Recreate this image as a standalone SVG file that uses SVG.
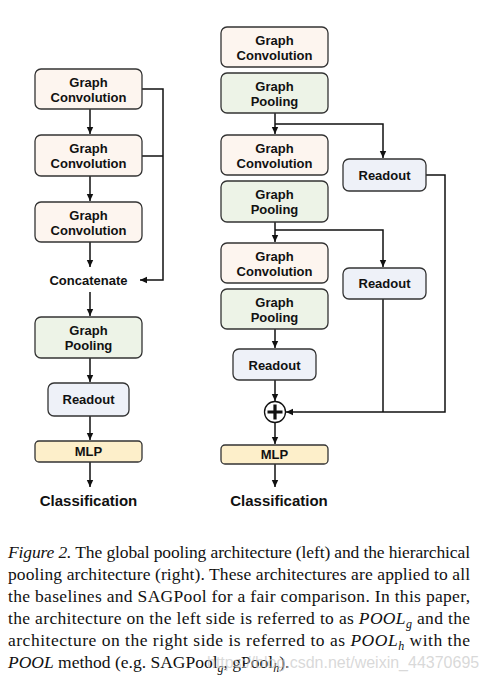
<svg xmlns="http://www.w3.org/2000/svg" width="489" height="683" viewBox="0 0 489 683">
<style>
.box{stroke:#333;stroke-width:1.3}
.gc{fill:#fdf5ef}
.gp{fill:#edf3e7}
.ro{fill:#eef1f8}
.mlp{fill:#fdefca}
.lbl{font-family:"Liberation Sans",Arial,sans-serif;font-weight:bold;font-size:13px;fill:#111;text-anchor:middle}
.big{font-size:15px}
.wire{fill:none;stroke:#111;stroke-width:1.5}
.cap{font-family:"Liberation Serif","Times New Roman",serif;font-size:17.5px;fill:#111}
.it{font-style:italic}
.sub{font-style:italic;font-size:12px}
</style>
<defs>
<marker id="ah" markerUnits="userSpaceOnUse" markerWidth="8" markerHeight="8" refX="7" refY="4" orient="auto">
<path d="M0,0.8 L7,4 L0,7.2 Z" fill="#111"/>
</marker>
</defs>
<rect width="489" height="683" fill="#fff"/>

<g id="connectors">
<path class="wire" d="M90,109 V134" marker-end="url(#ah)"/>
<path class="wire" d="M90,176 V201" marker-end="url(#ah)"/>
<path class="wire" d="M90,242 V267" marker-end="url(#ah)"/>
<path class="wire" d="M90,292 V316" marker-end="url(#ah)"/>
<path class="wire" d="M90,358 V382" marker-end="url(#ah)"/>
<path class="wire" d="M90,416 V440" marker-end="url(#ah)"/>
<path class="wire" d="M90,462 V487" marker-end="url(#ah)"/>
<path class="wire" d="M142,89 H163 V280 H140" marker-end="url(#ah)"/>
<path class="wire" d="M142,156 H163"/>

<path class="wire" d="M275,113 V134" marker-end="url(#ah)"/>
<path class="wire" d="M275,124 H383 V158" marker-end="url(#ah)"/>
<path class="wire" d="M426,175 H445 V412 H286" marker-end="url(#ah)"/>
<path class="wire" d="M275,222 V242" marker-end="url(#ah)"/>
<path class="wire" d="M275,230 H383 V267" marker-end="url(#ah)"/>
<path class="wire" d="M275,329 V348" marker-end="url(#ah)"/>
<path class="wire" d="M275,380 V401" marker-end="url(#ah)"/>
<path class="wire" d="M383,299 V412"/>
<path class="wire" d="M275,423 V444" marker-end="url(#ah)"/>
<path class="wire" d="M275,464 V487" marker-end="url(#ah)"/>
</g>

<!-- Left column -->
<g id="l-gc1"><rect class="box gc" x="35" y="69" width="107" height="40" rx="6"/><text class="lbl" x="88.5" y="87">Graph</text><text class="lbl" x="88.5" y="102">Convolution</text></g>
<g id="l-gc2"><rect class="box gc" x="35" y="135" width="107" height="41" rx="6"/><text class="lbl" x="88.5" y="153">Graph</text><text class="lbl" x="88.5" y="168">Convolution</text></g>
<g id="l-gc3"><rect class="box gc" x="35" y="202" width="107" height="40" rx="6"/><text class="lbl" x="88.5" y="220">Graph</text><text class="lbl" x="88.5" y="235">Convolution</text></g>
<g id="l-concat"><text class="lbl" x="88.5" y="285">Concatenate</text></g>
<g id="l-gp"><rect class="box gp" x="35" y="317" width="107" height="41" rx="6"/><text class="lbl" x="88.5" y="335">Graph</text><text class="lbl" x="88.5" y="350">Pooling</text></g>
<g id="l-ro"><rect class="box ro" x="48" y="383" width="81" height="33" rx="6"/><text class="lbl" x="88.5" y="404">Readout</text></g>
<g id="l-mlp"><rect class="box mlp" x="35" y="441" width="107" height="21" rx="4"/><text class="lbl" x="88.5" y="456">MLP</text></g>
<g id="l-cls"><text class="lbl big" x="88.5" y="506">Classification</text></g>

<!-- Right column -->
<g id="r-gc1"><rect class="box gc" x="221" y="27" width="107" height="40" rx="6"/><text class="lbl" x="274.5" y="45">Graph</text><text class="lbl" x="274.5" y="60">Convolution</text></g>
<g id="r-gp1"><rect class="box gp" x="221" y="73" width="107" height="40" rx="6"/><text class="lbl" x="274.5" y="91">Graph</text><text class="lbl" x="274.5" y="106">Pooling</text></g>
<g id="r-gc2"><rect class="box gc" x="221" y="135" width="107" height="40" rx="6"/><text class="lbl" x="274.5" y="153">Graph</text><text class="lbl" x="274.5" y="168">Convolution</text></g>
<g id="r-gp2"><rect class="box gp" x="221" y="181" width="107" height="41" rx="6"/><text class="lbl" x="274.5" y="199">Graph</text><text class="lbl" x="274.5" y="214">Pooling</text></g>
<g id="r-gc3"><rect class="box gc" x="221" y="243" width="107" height="40" rx="6"/><text class="lbl" x="274.5" y="261">Graph</text><text class="lbl" x="274.5" y="276">Convolution</text></g>
<g id="r-gp3"><rect class="box gp" x="221" y="289" width="107" height="40" rx="6"/><text class="lbl" x="274.5" y="307">Graph</text><text class="lbl" x="274.5" y="322">Pooling</text></g>
<g id="r-ro1"><rect class="box ro" x="343" y="159" width="83" height="32" rx="6"/><text class="lbl" x="384.5" y="180">Readout</text></g>
<g id="r-ro2"><rect class="box ro" x="343" y="268" width="83" height="31" rx="6"/><text class="lbl" x="384.5" y="288">Readout</text></g>
<g id="r-ro3"><rect class="box ro" x="233" y="349" width="83" height="31" rx="6"/><text class="lbl" x="274.5" y="370">Readout</text></g>
<g id="r-sum"><circle cx="275" cy="412" r="10.5" fill="#fff" stroke="#111" stroke-width="1.3"/><path d="M267.5,412 H282.5 M275,404.5 V419.5" stroke="#111" stroke-width="3.2"/></g>
<g id="r-mlp"><rect class="box mlp" x="221" y="445" width="107" height="19" rx="4"/><text class="lbl" x="274.5" y="459">MLP</text></g>
<g id="r-cls"><text class="lbl big" x="279" y="506">Classification</text></g>

<!-- Caption -->
<g id="caption">
<text class="cap" x="8" y="558" textLength="462" lengthAdjust="spacing"><tspan class="it">Figure 2.</tspan> The global pooling architecture (left) and the hierarchical</text>
<text class="cap" x="8" y="580" textLength="462" lengthAdjust="spacing">pooling architecture (right). These architectures are applied to all</text>
<text class="cap" x="8" y="602" textLength="462" lengthAdjust="spacing">the baselines and SAGPool for a fair comparison.  In this paper,</text>
<text class="cap" x="8" y="624" textLength="462" lengthAdjust="spacing">the architecture on the left side is referred to as <tspan class="it">POOL</tspan><tspan class="sub" dy="4">g</tspan><tspan dy="-4"> and the</tspan></text>
<text class="cap" x="8" y="646" textLength="462" lengthAdjust="spacing">architecture on the right side is referred to as <tspan class="it">POOL</tspan><tspan class="sub" dy="4">h</tspan><tspan dy="-4"> with the</tspan></text>
<text class="cap" x="8" y="668"><tspan class="it">POOL</tspan> method (e.g. SAGPool<tspan class="sub" dy="4">g</tspan><tspan dy="-4">, gPool</tspan><tspan class="sub" dy="4">h</tspan><tspan dy="-4">).</tspan></text>
<text x="207" y="668" font-family="'Liberation Sans',Arial,sans-serif" font-size="16" fill="#c8c8c8" fill-opacity="0.7">https://blog.csdn.net/weixin_44370695</text>
</g>
</svg>
